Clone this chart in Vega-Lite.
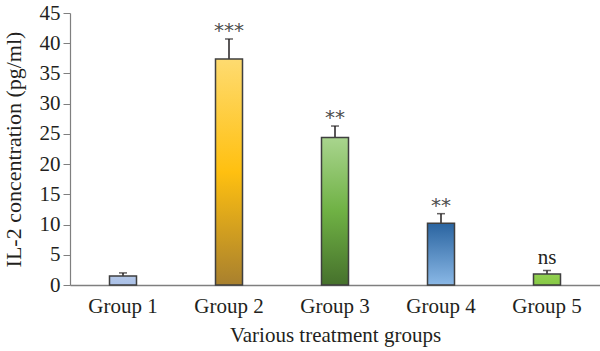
{
  "$schema": "https://vega.github.io/schema/vega-lite/v6.json",
  "width": 530,
  "height": 272,
  "autosize": "none",
  "padding": {"left": 70, "top": 13, "right": 0, "bottom": 66},
  "background": "white",
  "config": {
    "view": {"stroke": null},
    "font": "Liberation Serif",
    "axis": {
      "labelFont": "Liberation Serif",
      "titleFont": "Liberation Serif",
      "labelFontSize": 21,
      "titleFontSize": 21,
      "titleFontWeight": "normal",
      "labelColor": "#231f20",
      "titleColor": "#231f20",
      "domainColor": "#7f7f7f",
      "tickColor": "#7f7f7f",
      "grid": false
    }
  },
  "data": {
    "values": [
      {"group": "Group 1", "value": 1.5, "err": 2.0, "label": ""},
      {"group": "Group 2", "value": 37.4, "err": 40.7, "label": "***"},
      {"group": "Group 3", "value": 24.4, "err": 26.3, "label": "**"},
      {"group": "Group 4", "value": 10.2, "err": 11.8, "label": "**"},
      {"group": "Group 5", "value": 1.8, "err": 2.4, "label": "ns"}
    ]
  },
  "encoding": {
    "x": {
      "field": "group", "type": "nominal", "sort": null,
      "scale": {"paddingInner": 0, "paddingOuter": 0},
      "axis": {"title": "Various treatment groups", "labelAngle": 0, "ticks": false, "labelPadding": 10, "titlePadding": 8, "domainWidth": 1.5}
    },
    "y": {
      "field": "value", "type": "quantitative",
      "scale": {"domain": [0, 45], "nice": false},
      "axis": {"title": "IL-2 concentration (pg/ml)", "titleFontSize": 22, "values": [0,5,10,15,20,25,30,35,40,45], "tickSize": 7, "labelPadding": 3, "titlePadding": 14, "domainWidth": 1.2}
    }
  },
  "layer": [
    {
      "mark": {"type": "rule", "color": "#231f20", "strokeWidth": 1.5},
      "encoding": {"y": {"field": "value", "type": "quantitative"}, "y2": {"field": "err"}}
    },
    {
      "mark": {"type": "tick", "color": "#231f20", "thickness": 1.5, "size": 8},
      "encoding": {"y": {"field": "err", "type": "quantitative"}}
    },
    {
      "transform": [{"filter": "datum.group === 'Group 1'"}],
      "mark": {"type": "bar", "width": 27, "stroke": "#3f3f3f", "strokeWidth": 1.5,
        "fill": {"gradient": "linear", "x1": 0, "y1": 0, "x2": 0, "y2": 1, "stops": [{"offset": 0, "color": "#b4c7e7"}, {"offset": 1, "color": "#a9c0e8"}]}}
    },
    {
      "transform": [{"filter": "datum.group === 'Group 2'"}],
      "mark": {"type": "bar", "width": 27, "stroke": "#3f3f3f", "strokeWidth": 1.5,
        "fill": {"gradient": "linear", "x1": 0, "y1": 0, "x2": 0, "y2": 1, "stops": [{"offset": 0, "color": "#fedb70"}, {"offset": 0.5, "color": "#ffc010"}, {"offset": 1, "color": "#a8802e"}]}}
    },
    {
      "transform": [{"filter": "datum.group === 'Group 3'"}],
      "mark": {"type": "bar", "width": 27, "stroke": "#3f3f3f", "strokeWidth": 1.5,
        "fill": {"gradient": "linear", "x1": 0, "y1": 0, "x2": 0, "y2": 1, "stops": [{"offset": 0, "color": "#a9d58e"}, {"offset": 0.5, "color": "#6fb144"}, {"offset": 1, "color": "#46712c"}]}}
    },
    {
      "transform": [{"filter": "datum.group === 'Group 4'"}],
      "mark": {"type": "bar", "width": 27, "stroke": "#3f3f3f", "strokeWidth": 1.5,
        "fill": {"gradient": "linear", "x1": 0, "y1": 0, "x2": 0, "y2": 1, "stops": [{"offset": 0, "color": "#2a64a0"}, {"offset": 1, "color": "#8ab8e6"}]}}
    },
    {
      "transform": [{"filter": "datum.group === 'Group 5'"}],
      "mark": {"type": "bar", "width": 27, "stroke": "#3f3f3f", "strokeWidth": 1.5,
        "fill": {"gradient": "linear", "x1": 0, "y1": 0, "x2": 0, "y2": 1, "stops": [{"offset": 0, "color": "#92d050"}, {"offset": 1, "color": "#86c845"}]}}
    },
    {
      "transform": [{"filter": "datum.label !== 'ns'"}],
      "mark": {"type": "text", "font": "DejaVu Sans", "fontSize": 20, "color": "#4d4d4d", "baseline": "middle", "dy": -8},
      "encoding": {"y": {"field": "err", "type": "quantitative"}, "text": {"field": "label"}}
    },
    {
      "transform": [{"filter": "datum.label === 'ns'"}],
      "mark": {"type": "text", "font": "Liberation Serif", "fontSize": 21, "color": "#231f20", "baseline": "alphabetic", "dy": -6},
      "encoding": {"y": {"field": "err", "type": "quantitative"}, "text": {"field": "label"}}
    }
  ]
}
